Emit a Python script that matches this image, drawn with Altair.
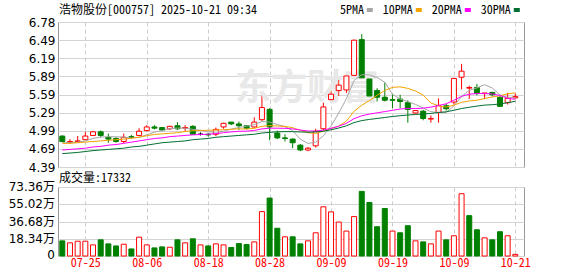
import altair as alt
import pandas as pd

# ---------------- data ----------------
dates = ['07-22', '07-23', '07-24', '07-25', '07-28', '07-29', '07-30', '07-31', '08-01', '08-04',
         '08-05', '08-06', '08-07', '08-08', '08-11', '08-12', '08-13', '08-14', '08-15', '08-18',
         '08-19', '08-20', '08-21', '08-22', '08-25', '08-26', '08-27', '08-28', '08-29', '09-01',
         '09-02', '09-03', '09-04', '09-05', '09-08', '09-09', '09-10', '09-11', '09-12', '09-15',
         '09-16', '09-17', '09-18', '09-19', '09-22', '09-23', '09-24', '09-25', '09-26', '09-29',
         '09-30', '10-09', '10-10', '10-13', '10-14', '10-15', '10-16', '10-17', '10-20', '10-21']

opens = [4.90, 4.80, 4.81, 4.84, 4.91, 4.97, 4.88, 4.86, 4.81, 4.89,
         4.91, 4.99, 5.05, 5.04, 5.02, 5.07, 5.03, 5.06, 4.93, 4.93,
         4.93, 5.05, 5.13, 5.10, 5.07, 5.05, 5.17, 5.34, 4.95, 4.87,
         4.85, 4.75, 4.67, 4.74, 5.02, 5.50, 5.65, 5.66, 5.90, 6.49,
         5.84, 5.65, 5.54, 5.50, 5.51, 5.45, 5.28, 5.31, 5.18, 5.29,
         5.40, 5.46, 5.87, 5.69, 5.70, 5.60, 5.62, 5.54, 5.45, 5.53]
highs = [4.91, 4.85, 4.90, 4.97, 4.98, 4.99, 4.94, 4.88, 4.94, 4.92,
         5.03, 5.08, 5.08, 5.05, 5.07, 5.13, 5.08, 5.08, 4.96, 4.95,
         5.04, 5.12, 5.13, 5.14, 5.08, 5.21, 5.60, 5.36, 4.99, 4.93,
         4.86, 4.77, 4.72, 5.02, 5.45, 5.66, 5.84, 5.93, 6.49, 6.58,
         5.89, 5.69, 5.78, 5.59, 5.58, 5.49, 5.33, 5.33, 5.24, 5.52,
         5.43, 5.86, 6.09, 5.73, 5.76, 5.61, 5.63, 5.55, 5.61, 5.60]
lows = [4.80, 4.77, 4.79, 4.83, 4.90, 4.88, 4.79, 4.79, 4.78, 4.86,
        4.90, 4.98, 5.01, 4.98, 5.00, 5.00, 4.98, 4.92, 4.91, 4.89,
        4.90, 5.02, 5.08, 5.00, 5.01, 5.04, 5.15, 4.83, 4.85, 4.81,
        4.70, 4.65, 4.65, 4.71, 5.00, 5.46, 5.56, 5.61, 5.87, 5.84,
        5.53, 5.47, 5.47, 5.36, 5.36, 5.12, 5.27, 5.16, 5.12, 5.12,
        5.32, 5.42, 5.67, 5.51, 5.57, 5.51, 5.55, 5.38, 5.42, 5.52]
closes = [4.81, 4.81, 4.82, 4.90, 4.97, 4.91, 4.85, 4.81, 4.88, 4.88,
          4.98, 5.05, 5.03, 5.00, 5.06, 5.02, 5.04, 4.93, 4.93, 4.92,
          5.01, 5.11, 5.10, 5.07, 5.03, 5.13, 5.37, 5.05, 4.87, 4.86,
          4.79, 4.67, 4.70, 4.98, 5.38, 5.59, 5.74, 5.89, 6.48, 5.86,
          5.56, 5.54, 5.49, 5.49, 5.47, 5.34, 5.32, 5.19, 5.19, 5.40,
          5.35, 5.85, 5.97, 5.70, 5.60, 5.61, 5.58, 5.39, 5.52, 5.55]

# volume in 万
volumes = [16.1, 14.0, 15.7, 15.7, 11.8, 17.2, 12.9, 10.7, 12.5, 7.5,
           20.0, 11.8, 8.6, 9.7, 9.3, 17.2, 14.0, 18.3, 11.8, 10.7,
           12.9, 11.8, 9.0, 13.2, 12.2, 15.0, 47.2, 61.6, 29.5, 20.4,
           20.4, 12.9, 16.1, 24.7, 52.3, 46.9, 36.1, 26.5, 41.9, 68.7,
           56.9, 31.1, 50.5, 26.5, 24.7, 32.2, 16.1, 15.0, 12.9, 26.5,
           17.2, 21.5, 66.2, 42.9, 27.9, 19.3, 17.2, 25.8, 21.5, 1.7332]
vol_dirs = ['down', 'up', 'up', 'up', 'up', 'down', 'down', 'down', 'up', 'down',
            'up', 'up', 'down', 'down', 'up', 'down', 'up', 'down', 'up', 'down',
            'up', 'up', 'down', 'down', 'down', 'up', 'up', 'down', 'down', 'up',
            'down', 'down', 'up', 'up', 'up', 'up', 'up', 'up', 'up', 'down',
            'down', 'down', 'down', 'up', 'down', 'down', 'up', 'down', 'up', 'up',
            'down', 'up', 'up', 'down', 'down', 'up', 'down', 'down', 'up', 'up']

ma5 = [4.790, 4.790, 4.800, 4.820, 4.862, 4.882, 4.890, 4.888, 4.884, 4.866,
       4.880, 4.920, 4.964, 4.988, 5.024, 5.032, 5.030, 5.010, 4.996, 4.968,
       4.966, 4.980, 5.014, 5.042, 5.064, 5.088, 5.140, 5.130, 5.090, 5.056,
       4.988, 4.848, 4.778, 4.800, 4.904, 5.064, 5.278, 5.516, 5.816, 5.912,
       5.906, 5.866, 5.786, 5.588, 5.510, 5.466, 5.422, 5.362, 5.302, 5.288,
       5.290, 5.396, 5.552, 5.654, 5.694, 5.746, 5.692, 5.576, 5.540, 5.530]
ma10 = [4.780, 4.780, 4.790, 4.800, 4.810, 4.820, 4.830, 4.840, 4.850, 4.864,
        4.881, 4.905, 4.926, 4.936, 4.945, 4.956, 4.975, 4.987, 4.992, 4.996,
        4.999, 5.005, 5.012, 5.019, 5.016, 5.027, 5.060, 5.072, 5.066, 5.060,
        5.038, 4.994, 4.954, 4.945, 4.980, 5.026, 5.063, 5.147, 5.308, 5.408,
        5.485, 5.572, 5.651, 5.702, 5.711, 5.686, 5.644, 5.574, 5.445, 5.399,
        5.378, 5.409, 5.457, 5.478, 5.491, 5.518, 5.544, 5.564, 5.597, 5.612]
ma20 = [4.670, 4.680, 4.690, 4.700, 4.720, 4.730, 4.750, 4.760, 4.780, 4.800,
        4.820, 4.840, 4.860, 4.870, 4.890, 4.900, 4.910, 4.920, 4.925, 4.930,
        4.940, 4.955, 4.969, 4.978, 4.981, 4.992, 5.018, 5.030, 5.029, 5.028,
        5.018, 5.000, 4.983, 4.982, 4.998, 5.027, 5.062, 5.110, 5.187, 5.234,
        5.262, 5.283, 5.303, 5.324, 5.346, 5.356, 5.354, 5.360, 5.377, 5.404,
        5.432, 5.490, 5.554, 5.590, 5.601, 5.602, 5.594, 5.569, 5.521, 5.506]
ma30 = [4.610, 4.620, 4.630, 4.645, 4.660, 4.670, 4.680, 4.690, 4.700, 4.720,
        4.730, 4.750, 4.770, 4.790, 4.800, 4.810, 4.820, 4.840, 4.850, 4.860,
        4.880, 4.890, 4.900, 4.910, 4.920, 4.930, 4.950, 4.960, 4.970, 4.973,
        4.973, 4.968, 4.964, 4.967, 4.980, 5.003, 5.033, 5.069, 5.122, 5.155,
        5.174, 5.190, 5.206, 5.222, 5.236, 5.246, 5.256, 5.264, 5.273, 5.289,
        5.300, 5.325, 5.354, 5.375, 5.394, 5.410, 5.417, 5.428, 5.450, 5.473]

ma_names = ['5PMA', '10PMA', '20PMA', '30PMA']
ma_colors = ['#a6a6a6', '#f5a300', '#ff00ff', '#006e32']

tick_dates = ['07-25', '08-06', '08-18', '08-28', '09-09', '09-19', '10-09', '10-21']
price_labels = ['4.39', '4.69', '4.99', '5.29', '5.59', '5.89', '6.19', '6.49', '6.78']
vol_ticks = [0, 18.34, 36.68, 55.02, 73.36]
vol_labels = ['0', '18.34万', '36.68万', '55.02万', '73.36万']

title_text = '浩物股份[000757] 2025-10-21 09:34'
vol_title = '成交量:17332'
watermark = '东方财富'

# ---------------- styling ----------------
MONO = 'Noto Sans Mono CJK SC, DejaVu Sans Mono, monospace'
SANS = 'DejaVu Sans, Noto Sans CJK SC'
RED = '#ff0000'
GREEN = '#008000'
PLOT_W, PRICE_H, VOL_H, GAP = 466, 145, 69, 20

n = len(dates)
idx = list(range(n))


def direction(o, c):
    return 'up' if c > o else ('down' if c < o else 'flat')


candles = pd.DataFrame({'idx': idx, 'date': dates, 'open': opens, 'high': highs,
                        'low': lows, 'close': closes,
                        'dir': [direction(o, c) for o, c in zip(opens, closes)]})
vol_df = pd.DataFrame({'idx': idx, 'vol': volumes, 'dir': vol_dirs})
vol_tick_df = pd.DataFrame({'v': vol_ticks[1:], 'label': vol_labels[1:]})
ma_df = pd.concat([pd.DataFrame({'idx': idx, 'value': vals, 'series': name})
                   for name, vals in zip(ma_names, [ma5, ma10, ma20, ma30])],
                  ignore_index=True)

tick_idx = [dates.index(d) for d in tick_dates]
dates_js = '[' + ','.join("'%s'" % d for d in dates) + ']'
p_lo, p_hi = float(price_labels[0]), float(price_labels[-1])
p_step = (p_hi - p_lo) / (len(price_labels) - 1)
price_ticks = [p_lo + k * p_step for k in range(len(price_labels))]
plabels_js = '[' + ','.join("'%s'" % s for s in price_labels) + ']'

x_scale = alt.Scale(domain=[-0.56, 60.13], nice=False, zero=False, padding=0)
price_scale = alt.Scale(domain=[p_lo, p_hi], nice=False, zero=False, padding=0)
vol_scale = alt.Scale(domain=[vol_ticks[0], vol_ticks[-1]], nice=False, zero=True, padding=0)
dir_domain = ['up', 'down', 'flat']
stroke_scale = alt.Scale(domain=dir_domain, range=[RED, GREEN, '#000000'])
fill_scale = alt.Scale(domain=dir_domain, range=['#ffffff', GREEN, '#000000'])
ma_scale = alt.Scale(domain=ma_names, range=ma_colors)

x_price_axis = alt.Axis(values=tick_idx, labels=False, ticks=False, domain=False,
                        grid=True, gridDash=[4, 3], gridColor='#cccccc')
y_price_axis = alt.Axis(values=price_ticks,
                        labelExpr=plabels_js + '[round((datum.value - %s) / %s)]' % (p_lo, p_step),
                        grid=True, gridColor='#d4d4d4', ticks=False, domain=False,
                        labelPadding=3, labelFont=SANS, labelFontSize=12,
                        labelColor='#000000', labelOverlap=False)
x_vol_axis = alt.Axis(values=tick_idx, labelExpr=dates_js + '[datum.value]',
                      grid=True, gridDash=[4, 3], gridColor='#cccccc',
                      ticks=False, domain=False, labelColor=RED, labelFont=MONO,
                      labelFontSize=12, labelPadding=1, labelOverlap=False,
                      labelFlush=False)
y_vol_axis = alt.Axis(values=vol_ticks, labels=False, grid=True, gridColor='#d4d4d4',
                      ticks=False, domain=False)


def px(field='idx'):
    return alt.X(field + ':Q', scale=x_scale, title=None, axis=x_price_axis)


def py(field):
    return alt.Y(field + ':Q', scale=price_scale, title=None, axis=y_price_axis)


# ---------------- price panel ----------------
wick = alt.Chart(candles).mark_rule(strokeWidth=1).encode(
    x=px(), y=py('low'), y2='high:Q',
    stroke=alt.Stroke('dir:N', scale=stroke_scale, legend=None),
)

body = alt.Chart(candles).mark_bar(width=5, strokeWidth=1).encode(
    x=px(), y=py('open'), y2='close:Q',
    fill=alt.Fill('dir:N', scale=fill_scale, legend=None),
    stroke=alt.Stroke('dir:N', scale=stroke_scale, legend=None),
)

ma_lines = alt.Chart(ma_df).mark_line(strokeWidth=1).encode(
    x=px(), y=py('value'),
    color=alt.Color('series:N', scale=ma_scale, legend=None),
    detail='series:N',
)

one = pd.DataFrame({'k': [0]})

wm = alt.Chart(one).mark_text(
    align='center', baseline='middle', font='Noto Sans CJK SC', fontSize=36,
    fontWeight='bold', color='#e8e8e8'
).encode(x=alt.value(249), y=alt.value(67), text=alt.value(watermark))

title_mark = alt.Chart(one).mark_text(
    align='left', baseline='middle', font=MONO, fontSize=12, color='#000000'
).encode(x=alt.value(1), y=alt.value(-12), text=alt.value(title_text))

# lowest volume-axis label, placed from the price panel's frame
zero_label = alt.Chart(one).mark_text(
    align='right', baseline='middle', font=SANS, fontSize=12, color='#000000'
).encode(x=alt.value(-3), y=alt.value(PRICE_H + GAP + VOL_H - 1),
         text=alt.value(vol_labels[0]))

legend_layers = []
pos = 282
for name, col in zip(ma_names, ma_colors):
    sx = pos + 6.2 * len(name) + 2
    legend_layers.append(alt.Chart(one).mark_text(
        align='left', baseline='middle', font=MONO, fontSize=12, color='#000000'
    ).encode(x=alt.value(pos), y=alt.value(-12), text=alt.value(name)))
    legend_layers.append(alt.Chart(one).mark_rect(color=col).encode(
        x=alt.value(sx), x2=alt.value(sx + 6), y=alt.value(-14), y2=alt.value(-10)))
    pos = sx + 6 + 10

price_chart = alt.layer(wick, wm, body, ma_lines, title_mark, zero_label,
                        *legend_layers).properties(width=PLOT_W, height=PRICE_H)

# ---------------- volume panel ----------------
vol_bars = alt.Chart(vol_df).mark_bar(width=5, strokeWidth=1).encode(
    x=alt.X('idx:Q', scale=x_scale, title=None, axis=x_vol_axis),
    y=alt.Y('vol:Q', scale=vol_scale, title=None, axis=y_vol_axis),
    fill=alt.Fill('dir:N', scale=fill_scale, legend=None),
    stroke=alt.Stroke('dir:N', scale=stroke_scale, legend=None),
)

vol_axis_labels = alt.Chart(vol_tick_df).mark_text(
    align='right', baseline='middle', font=SANS, fontSize=12, color='#000000'
).encode(
    x=alt.value(-3),
    y=alt.Y('v:Q', scale=vol_scale, title=None, axis=y_vol_axis),
    text='label:N',
)

vol_label = alt.Chart(one).mark_text(
    align='left', baseline='middle', font=MONO, fontSize=12, color='#000000'
).encode(x=alt.value(1), y=alt.value(-9), text=alt.value(vol_title))

vol_chart = alt.layer(vol_bars, vol_axis_labels, vol_label).properties(
    width=PLOT_W, height=VOL_H)

chart = alt.vconcat(price_chart, vol_chart, spacing=GAP, bounds='flush').properties(
    padding={'left': 8, 'top': 3, 'right': 5, 'bottom': 5},
    background='#ffffff',
).configure_view(stroke='#999999', strokeWidth=1)

chart.save('out.html', embed_options={'renderer': 'svg', 'actions': False})
